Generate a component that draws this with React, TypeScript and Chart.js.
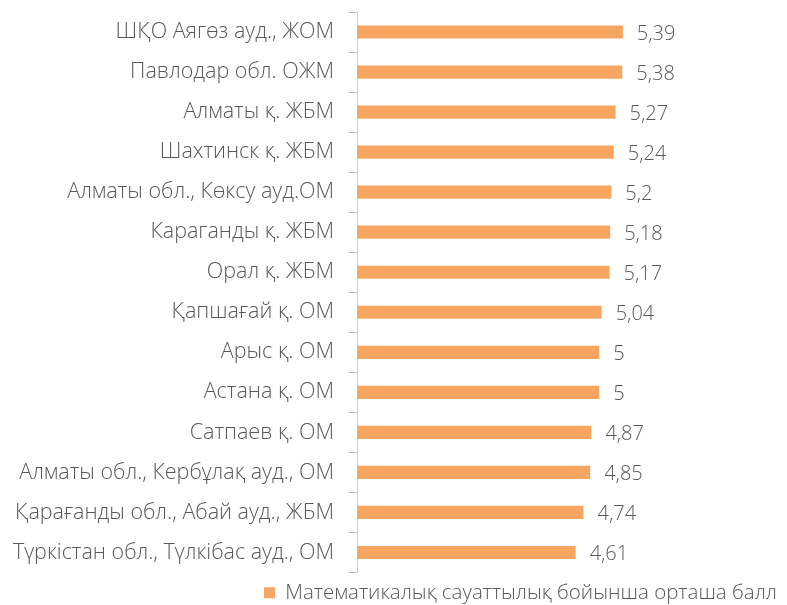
import React, { useEffect, useRef } from "react";
import { Chart, registerables } from "chart.js";

Chart.register(...registerables);

const categories: string[] = [
  "ШҚО Аягөз ауд., ЖОМ",
  "Павлодар обл. ОЖМ",
  "Алматы қ. ЖБМ",
  "Шахтинск қ. ЖБМ",
  "Алматы обл., Көксу ауд.ОМ",
  "Караганды қ. ЖБМ",
  "Орал қ. ЖБМ",
  "Қапшағай қ. ОМ",
  "Арыс қ. ОМ",
  "Астана қ. ОМ",
  "Сатпаев қ. ОМ",
  "Алматы обл., Кербұлақ ауд., ОМ",
  "Қарағанды обл., Абай ауд., ЖБМ",
  "Түркістан обл., Түлкібас ауд., ОМ",
];

const values: number[] = [5.39, 5.38, 5.27, 5.24, 5.2, 5.18, 5.17, 5.04, 5, 5, 4.87, 4.85, 4.74, 4.61];

const seriesName = "Математикалық сауаттылық бойынша орташа балл";

const FONT = "'Open Sans', sans-serif";
const TEXT = "#595959";
const BAR = "#F7A662";

const fmt = (v: number) => String(v).replace(".", ",");

const labelPlugin = {
  id: "valueLabels",
  afterDatasetsDraw(chart: any) {
    const ctx = chart.ctx;
    const meta = chart.getDatasetMeta(0);
    ctx.save();
    ctx.font = `300 20px ${FONT}`;
    ctx.fillStyle = TEXT;
    ctx.textAlign = "left";
    ctx.textBaseline = "middle";
    meta.data.forEach((el: any, i: number) => {
      ctx.fillText(fmt(values[i]), el.x + 14, el.y + 2);
    });
    ctx.restore();
  },
};

export default function App() {
  const ref = useRef<HTMLCanvasElement | null>(null);
  useEffect(() => {
    document.body.style.margin = "0";
    const chart = new Chart(ref.current!, {
      type: "bar",
      data: {
        labels: categories,
        datasets: [
          {
            label: seriesName,
            data: values,
            backgroundColor: BAR,
            borderWidth: 0,
            barPercentage: 0.33,
            categoryPercentage: 1,
          },
        ],
      },
      options: {
        indexAxis: "y",
        animation: false,
        responsive: false,
        layout: { padding: { top: 12, right: 0, left: 0, bottom: -8 } },
        plugins: {
          tooltip: { enabled: false },
          legend: {
            position: "bottom",
            align: "end",
            labels: {
              boxWidth: 11,
              boxHeight: 11,
              color: TEXT,
              font: { family: FONT, size: 20.5, weight: "300" },
              padding: 10,
            },
          },
        },
        scales: {
          x: { display: false, min: 1, max: 8.1 },
          y: {
            afterFit: (s: any) => {
              s.width = 357;
              s.paddingTop = 0;
              s.paddingBottom = 0;
            },
            grid: {
              display: true,
              drawOnChartArea: false,
              tickLength: 8,
              color: "#bfbfbf",
              offset: true,
            },
            border: { display: true, color: "#d0d0d0" },
            ticks: {
              color: TEXT,
              font: { family: FONT, size: 21.5, weight: "300" },
              padding: 15,
            },
          },
        },
      },
      plugins: [labelPlugin],
    });
    return () => chart.destroy();
  }, []);
  return <canvas ref={ref} width={787} height={605} style={{ display: "block" }} />;
}
